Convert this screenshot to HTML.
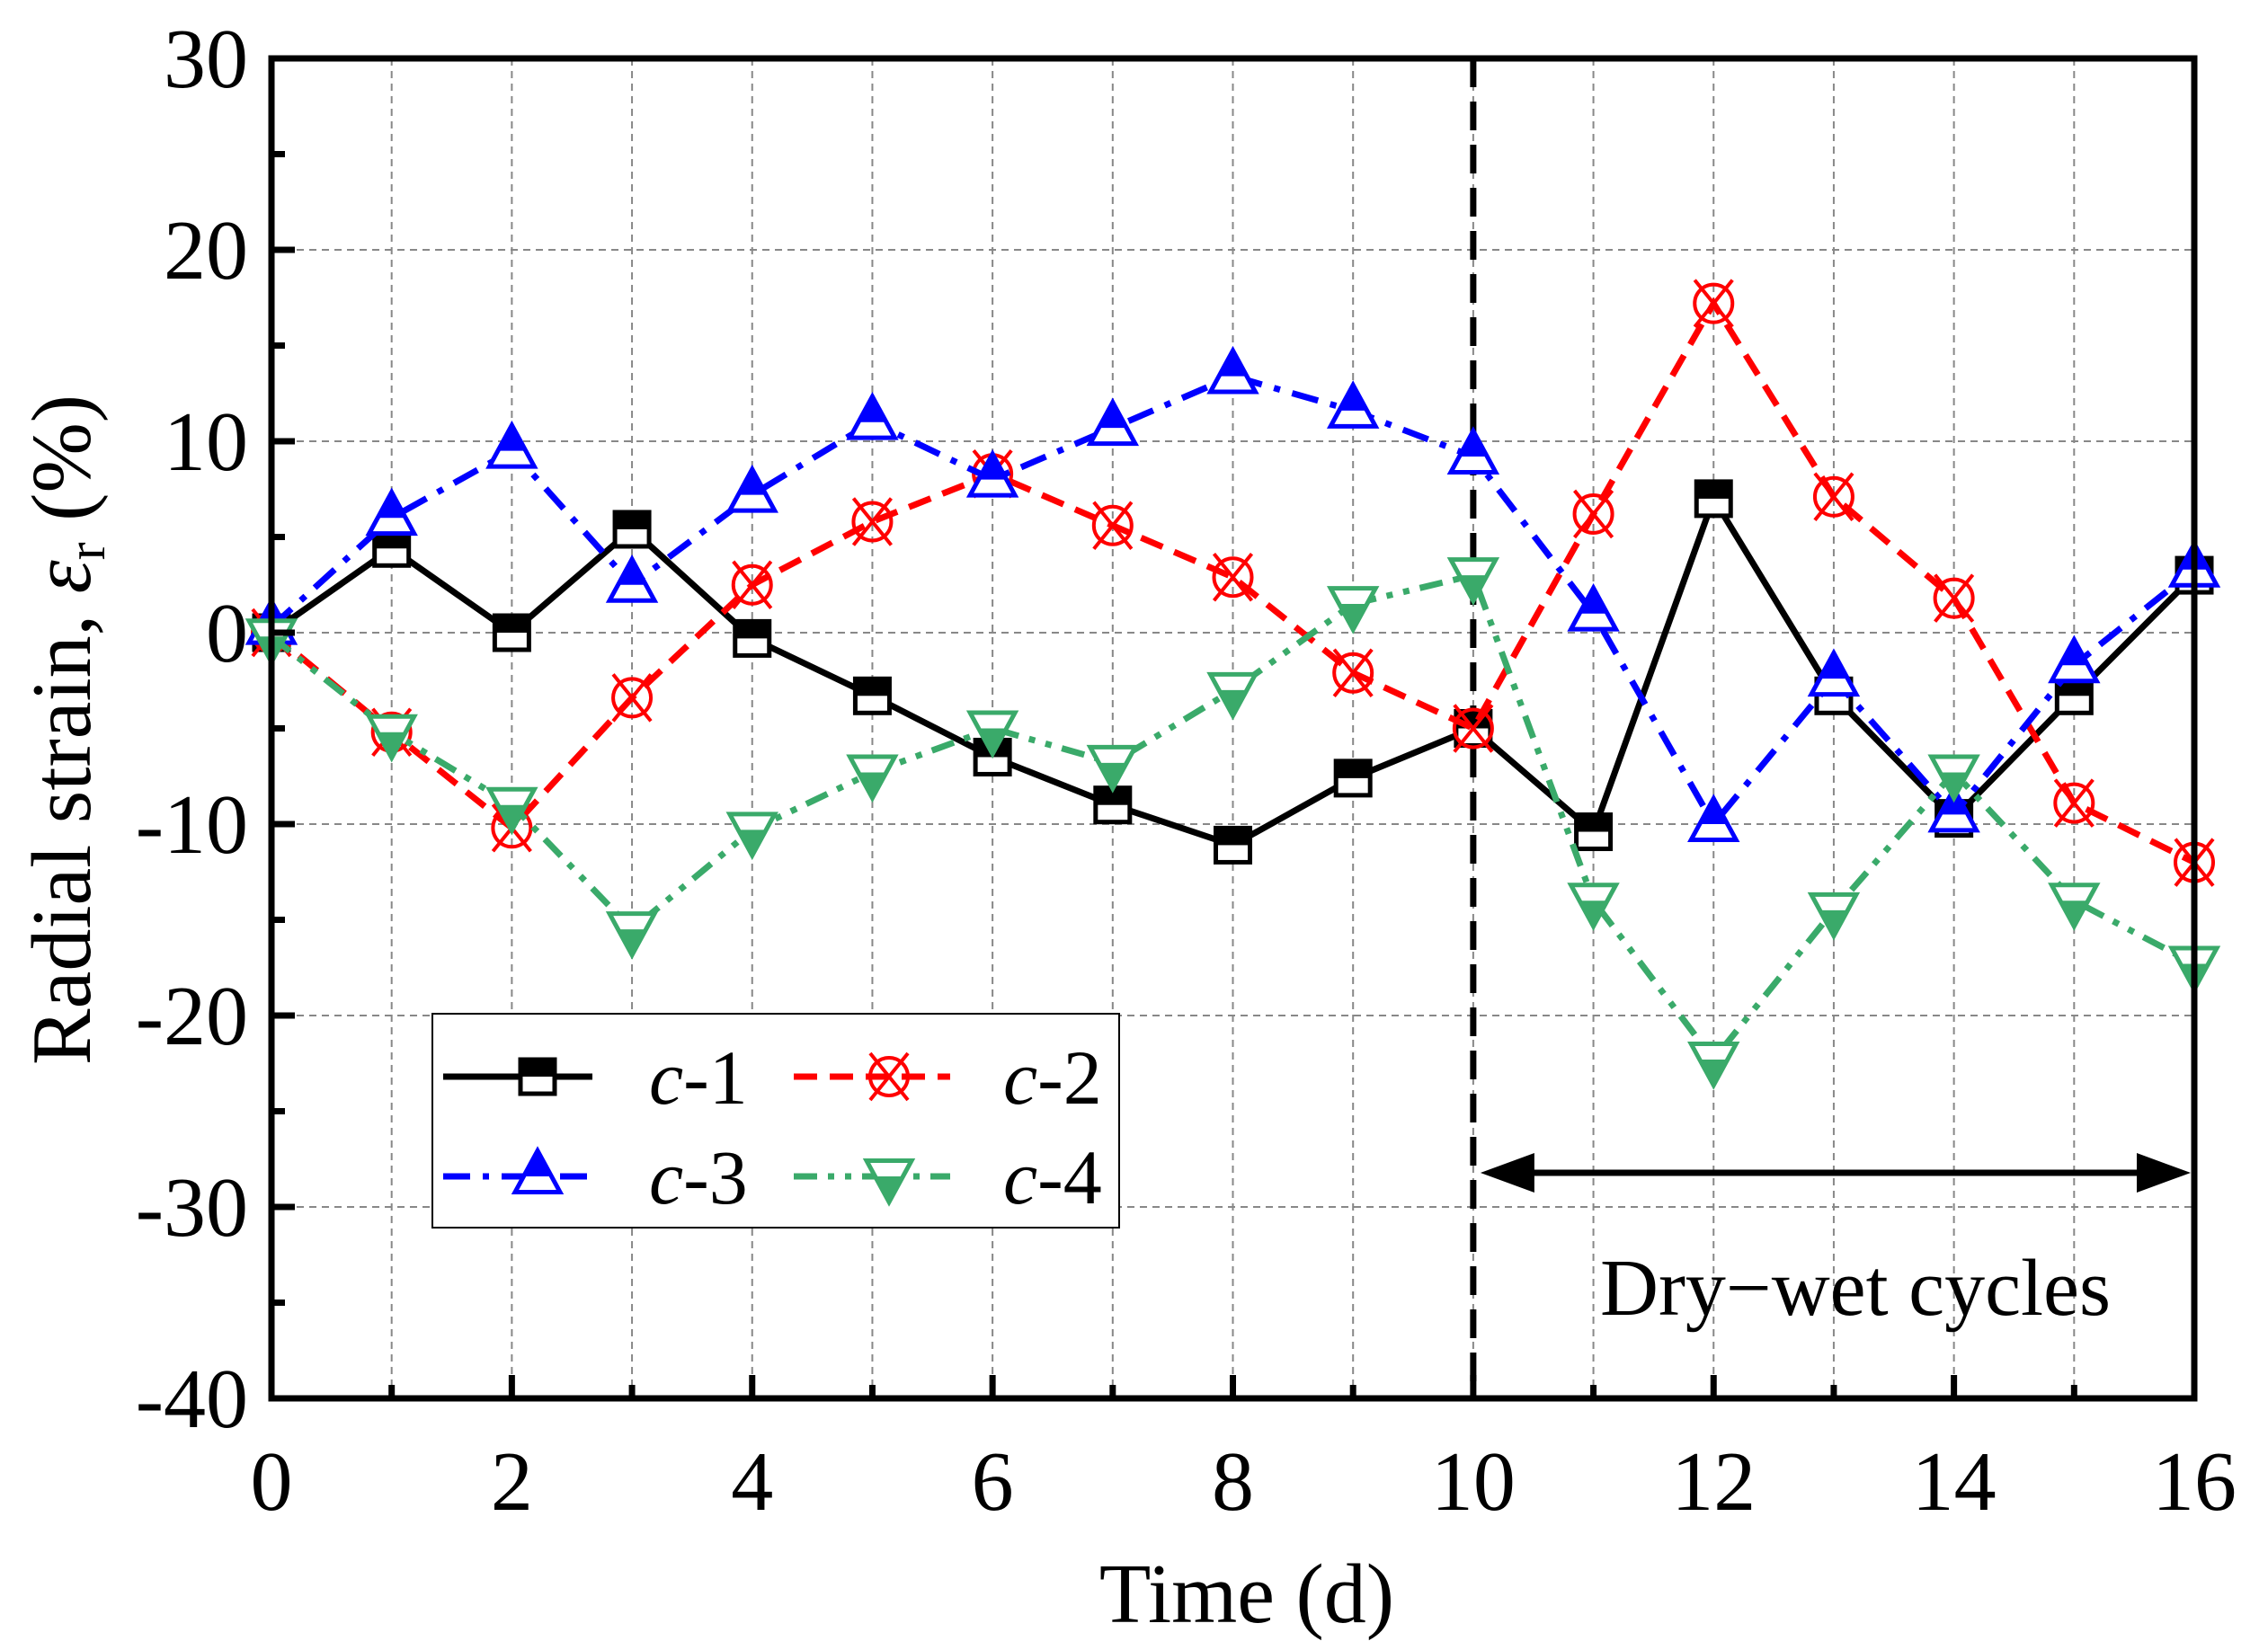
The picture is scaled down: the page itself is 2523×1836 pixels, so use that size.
<!DOCTYPE html>
<html><head><meta charset="utf-8"><style>
html,body{margin:0;padding:0;background:#fff}
svg{display:block;font-family:"Liberation Serif",serif}
</style></head><body>
<svg id="chart" width="2523" height="1836" viewBox="0 0 2523 1836" xmlns="http://www.w3.org/2000/svg">
<g id="grid"></g>
<g id="series"></g>
<g id="axes"></g>
<text x="1387" y="1805" font-size="94" text-anchor="middle">Time (d)</text>
<text transform="translate(100,812) rotate(-90)" font-size="94" text-anchor="middle">Radial strain, <tspan font-style="italic">ε</tspan><tspan font-size="60" dy="16">r</tspan><tspan dy="-16"> (%)</tspan></text>
<text x="2064" y="1463" font-size="90" text-anchor="middle">Dry−wet cycles</text>
<g>
<rect x="481" y="1128" width="764" height="238" fill="#fff" stroke="#000" stroke-width="2"/>
<g id="legend-items"></g>
</g>
</svg>
<script>
const days = [0,1,2,3,4,5,6,7,8,9,10,11,12,13,14,15,16];
const c1 = [0,4.4,0,5.4,-0.3,-3.3,-6.5,-9,-11.1,-7.6,-5,-10.4,7,-3.3,-9.7,-3.3,3];
const c2 = [0,-5.2,-10.2,-3.4,2.5,5.8,8.3,5.6,2.9,-2.1,-5,6.2,17.2,7.1,1.8,-8.9,-12];
const c3 = [0.3,6,9.5,2.5,7.2,11,8,10.7,13.4,11.6,9.2,1,-10,-2.4,-9.5,-1.7,3.3];
const c4 = [-0.2,-5.2,-9,-15.5,-10.3,-7.3,-5,-6.8,-3,1.5,3,-14,-22.3,-14.5,-7.3,-14,-17.3];
const xTicks = [0,2,4,6,8,10,12,14,16];
const yTicks = [30,20,10,0,-10,-20,-30,-40];
const seriesNames = ['c-1','c-2','c-3','c-4'];
const dryWetStart = 10;

const NS='http://www.w3.org/2000/svg';
const X0=302,X1=2441,Y0=1556,Y1=65,XMIN=0,XMAX=16,YMIN=-40,YMAX=30;
const sx=v=>X0+(v-XMIN)/(XMAX-XMIN)*(X1-X0);
const sy=v=>Y0-(v-YMIN)/(YMAX-YMIN)*(Y0-Y1);
function mk(tag,attrs,parent){const e=document.createElementNS(NS,tag);for(const k in attrs)e.setAttribute(k,attrs[k]);parent.appendChild(e);return e;}
const grid=document.getElementById('grid'),axes=document.getElementById('axes'),ser=document.getElementById('series'),leg=document.getElementById('legend-items');

for(let d=XMIN+1;d<XMAX;d++){const l=mk('line',{x1:sx(d),x2:sx(d),y1:Y1,y2:Y0,stroke:'#888','stroke-width':2,'stroke-dasharray':'8,6'},grid);

}
for(let v=YMIN+10;v<YMAX;v+=10){const l=mk('line',{x1:X0,x2:X1,y1:sy(v),y2:sy(v),stroke:'#888','stroke-width':2,'stroke-dasharray':'8,6'},grid);

}

const dv=mk('line',{x1:sx(dryWetStart),x2:sx(dryWetStart),y1:Y1,y2:Y0,stroke:'#000','stroke-width':7,'stroke-dasharray':'32,16'},grid);


const ay=1305,ax0=sx(dryWetStart)+8,ax1=X1-4;
const ar=mk('g',{},grid);


mk('line',{x1:ax0+50,x2:ax1-50,y1:ay,y2:ay,stroke:'#000','stroke-width':7},ar);
mk('polygon',{points:`${ax0},${ay} ${ax0+60},${ay-22} ${ax0+60},${ay+22}`,fill:'#000'},ar);
mk('polygon',{points:`${ax1},${ay} ${ax1-60},${ay-22} ${ax1-60},${ay+22}`,fill:'#000'},ar);

const fr=mk('rect',{x:X0,y:Y1,width:X1-X0,height:Y0-Y1,fill:'none',stroke:'#000','stroke-width':7},axes);


for(let d=XMIN;d<=XMAX;d++){const major=d%2===0;const t=mk('line',{x1:sx(d),x2:sx(d),y1:Y0,y2:Y0-(major?26:15),stroke:'#000','stroke-width':7},axes);

}
xTicks.forEach(v=>{const t=mk('text',{x:sx(v),y:1680,'font-size':94,'text-anchor':'middle'},axes);t.textContent=v;

});
for(let v=YMIN;v<=YMAX;v+=5){const major=v%10===0;const t=mk('line',{x1:X0,x2:X0+(major?26:15),y1:sy(v),y2:sy(v),stroke:'#000','stroke-width':7},axes);

}
yTicks.forEach(v=>{const t=mk('text',{x:276,y:sy(v)+32,'font-size':94,'text-anchor':'end'},axes);t.textContent=v;

});

function marker(kind,x,y,parent){
  const g=mk('g',{},parent);
  if(kind==='sq'){const s=38;
    mk('rect',{x:x-s/2,y:y-s/2,width:s,height:s,fill:'#fff',stroke:'#000','stroke-width':5},g);
    mk('rect',{x:x-s/2,y:y-s/2,width:s,height:s/2,fill:'#000'},g);}
  else if(kind==='cx'){const r=21;
    mk('circle',{cx:x,cy:y,r:r,fill:'none',stroke:'#f00','stroke-width':4},g);
    mk('path',{d:`M${x-r},${y-r-5}L${x+r},${y+r+5}M${x+r},${y-r-5}L${x-r},${y+r+5}`,stroke:'#f00','stroke-width':4},g);}
  else if(kind==='up'){const h=46,w=50;
    mk('polygon',{points:`${x},${y-h*0.62} ${x+w/2},${y+h*0.38} ${x-w/2},${y+h*0.38}`,fill:'#fff',stroke:'#00f','stroke-width':5},g);
    mk('polygon',{points:`${x},${y-h*0.62} ${x+w*0.31},${y} ${x-w*0.31},${y}`,fill:'#00f'},g);}
  else {const h=46,w=50;
    mk('polygon',{points:`${x},${y+h*0.62} ${x+w/2},${y-h*0.38} ${x-w/2},${y-h*0.38}`,fill:'#fff',stroke:'#3aaa6a','stroke-width':5},g);
    mk('polygon',{points:`${x},${y+h*0.62} ${x+w*0.31},${y} ${x-w*0.31},${y}`,fill:'#3aaa6a'},g);}
  return g;
}
const defs=[
 {data:c1,color:'#000',dash:'',kind:'sq'},
 {data:c2,color:'#f00',dash:'26,14',kind:'cx'},
 {data:c3,color:'#00f',dash:'30,14,7,14',kind:'up'},
 {data:c4,color:'#3aaa6a',dash:'26,12,7,12,7,12',kind:'dn'}];
defs.forEach((s,i)=>{
  const g=mk('g',{},ser);
  
  
  const pts=s.data.map((v,j)=>sx(days[j])+','+sy(v)).join(' ');
  const pl=mk('polyline',{points:pts,fill:'none',stroke:s.color,'stroke-width':7,'stroke-dasharray':s.dash},g);
  
  
  s.data.forEach((v,j)=>{const m=marker(s.kind,sx(days[j]),sy(v),g);
    
    });
});
const lp=[[493,659,598,722,1198],[883,1057,989,1116,1198],[493,659,598,722,1309],[883,1057,989,1116,1309]];
defs.forEach((s,i)=>{const [a,b,m,t,y]=lp[i];
  const g=mk('g',{},leg);
  
  
  mk('line',{x1:a,x2:b,y1:y,y2:y,stroke:s.color,'stroke-width':7,'stroke-dasharray':s.dash},g);
  marker(s.kind,m,y,g);
  const tx=mk('text',{x:t,y:y+30,'font-size':86},g);
  tx.innerHTML='<tspan font-style="italic">c</tspan>-'+(i+1);
});
</script>
</body></html>
